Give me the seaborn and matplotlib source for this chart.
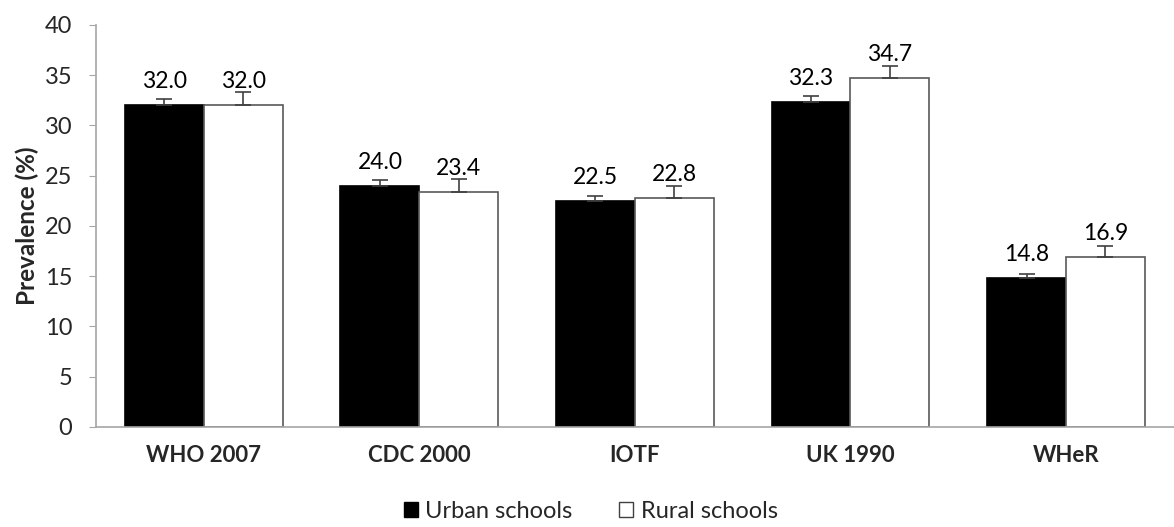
import matplotlib
matplotlib.use("Agg")
import matplotlib.pyplot as plt
import seaborn as sns
import pandas as pd
import numpy as np
from matplotlib.patches import Patch

# Data
references = ['WHO 2007', 'CDC 2000', 'IOTF', 'UK 1990', 'WHeR']
urban = [32.0, 24.0, 22.5, 32.3, 14.8]
rural = [32.0, 23.4, 22.8, 34.7, 16.9]
urban_err = [0.6, 0.6, 0.5, 0.6, 0.4]
rural_err = [1.3, 1.3, 1.2, 1.2, 1.1]
groups = ['Urban schools', 'Rural schools']

df = pd.DataFrame({
    'ref': references * 2,
    'school': [groups[0]] * 5 + [groups[1]] * 5,
    'prev': urban + rural,
    'err': urban_err + rural_err,
})

sns.set_style('white')
plt.rcParams['font.family'] = ['Lato', 'DejaVu Sans']

fig = plt.figure(figsize=(11.74, 5.27), dpi=100)
ax = fig.add_axes([0.0818, 0.190, 0.918, 0.763])

sns.barplot(data=df, x='ref', y='prev', hue='school', order=references,
            hue_order=groups, palette=['black', 'white'], width=0.732,
            errorbar=None, legend=False, ax=ax, linewidth=1.2)

bar_sets = list(ax.containers)

# bar edges, error bars and value labels
for i, cont in enumerate(bar_sets):
    sub = df[df['school'] == groups[i]]
    edge = 'black' if i == 0 else '#595959'
    xs, ys = [], []
    for bar, val in zip(cont.patches, sub['prev']):
        bar.set_edgecolor(edge)
        xs.append(bar.get_x() + bar.get_width() / 2)
        ys.append(val)
        ax.annotate(f'{val:.1f}', (xs[-1], val), xytext=(0, 13),
                    textcoords='offset pixels', ha='center', va='bottom',
                    fontsize=16.5, color='black')
    e = sub['err'].to_numpy()
    ax.errorbar(xs, ys, yerr=[np.zeros_like(e), e], fmt='none',
                ecolor='#404040', elinewidth=1.2, capsize=6, capthick=1.2)

ax.set_xlim(-0.5, 4.5)
ax.set_ylim(0, 40)
ax.set_yticks(range(0, 41, 5))
ax.set_xlabel('')
ax.set_ylabel('Prevalence (%)', fontsize=17.5, fontweight='bold', labelpad=4)
ax.tick_params(axis='y', labelsize=17, length=5, color='#A6A6A6', direction='out', left=True, pad=12)
ax.tick_params(axis='x', labelsize=16, length=0, pad=13)
for lab in ax.get_xticklabels():
    lab.set_fontweight('bold')
sns.despine(ax=ax)
for s in ['left', 'bottom']:
    ax.spines[s].set_color('#A6A6A6')
    ax.spines[s].set_linewidth(1.2)

handles = [Patch(facecolor='black', edgecolor='black'),
           Patch(facecolor='white', edgecolor='#404040')]
fig.legend(handles, groups, loc='center', bbox_to_anchor=(0.503, 0.03),
           ncol=2, frameon=False, fontsize=17, handlelength=0.6,
           handleheight=0.6, handletextpad=0.3, columnspacing=2.0)

fig.savefig('out.png', dpi=100)
